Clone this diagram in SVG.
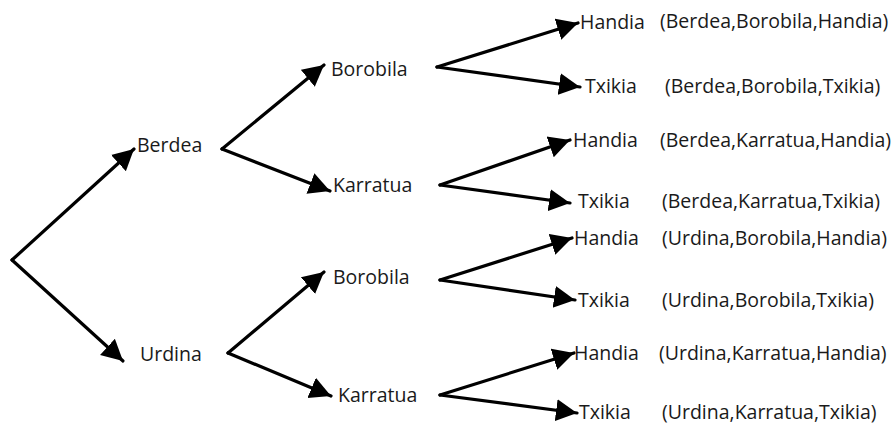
<svg xmlns="http://www.w3.org/2000/svg" width="894" height="425" viewBox="0 0 894 425">
<style>
text{font-family:"Open Sans","Liberation Sans",sans-serif;font-size:19.5px;fill:#1a1a1a}
.c line{stroke:#000;stroke-width:3.2;stroke-linecap:round;marker-end:url(#ah)}
</style>
<defs>
<marker id="ah" markerUnits="userSpaceOnUse" markerWidth="24" markerHeight="24" refX="21" refY="11" orient="auto" viewBox="0 0 24 22">
<path d="M0,0 L21,11 L0,22 z" fill="#000"/>
</marker>
</defs>
<rect width="894" height="425" fill="#fff"/>
<g class="c" id="connectors">
<line x1="12" y1="260" x2="134" y2="149"/>
<line x1="12" y1="260" x2="123" y2="361"/>
<line x1="222" y1="149" x2="324" y2="65"/>
<line x1="222" y1="149" x2="330" y2="191"/>
<line x1="228" y1="353" x2="324" y2="272"/>
<line x1="228" y1="353" x2="331" y2="396"/>
<line x1="437" y1="67" x2="578" y2="23"/>
<line x1="437" y1="67" x2="580" y2="87"/>
<line x1="440" y1="185" x2="570" y2="140"/>
<line x1="440" y1="185" x2="570" y2="203"/>
<line x1="440" y1="280" x2="572" y2="238"/>
<line x1="440" y1="280" x2="575" y2="300"/>
<line x1="440" y1="395" x2="574" y2="353"/>
<line x1="440" y1="395" x2="577" y2="413"/>
</g>
<g id="berdea"><text x="137" y="152">Berdea</text></g>
<g id="urdina"><text x="140" y="361">Urdina</text></g>
<g id="berdea-borobila"><text x="331" y="76">Borobila</text></g>
<g id="berdea-karratua"><text x="333" y="192">Karratua</text></g>
<g id="urdina-borobila"><text x="333" y="284">Borobila</text></g>
<g id="urdina-karratua"><text x="338" y="402">Karratua</text></g>
<g id="bbh"><text x="580" y="29">Handia</text><text x="660" y="28">(Berdea,Borobila,Handia)</text></g>
<g id="bbt"><text x="585" y="93">Txikia</text><text x="665" y="93">(Berdea,Borobila,Txikia)</text></g>
<g id="bkh"><text x="573" y="147">Handia</text><text x="660" y="147">(Berdea,Karratua,Handia)</text></g>
<g id="bkt"><text x="578" y="208">Txikia</text><text x="662" y="208">(Berdea,Karratua,Txikia)</text></g>
<g id="ubh"><text x="574" y="245">Handia</text><text x="662" y="245">(Urdina,Borobila,Handia)</text></g>
<g id="ubt"><text x="578" y="307">Txikia</text><text x="662" y="307">(Urdina,Borobila,Txikia)</text></g>
<g id="ukh"><text x="574" y="360">Handia</text><text x="659" y="360">(Urdina,Karratua,Handia)</text></g>
<g id="ukt"><text x="579" y="419">Txikia</text><text x="662" y="419">(Urdina,Karratua,Txikia)</text></g>
</svg>
